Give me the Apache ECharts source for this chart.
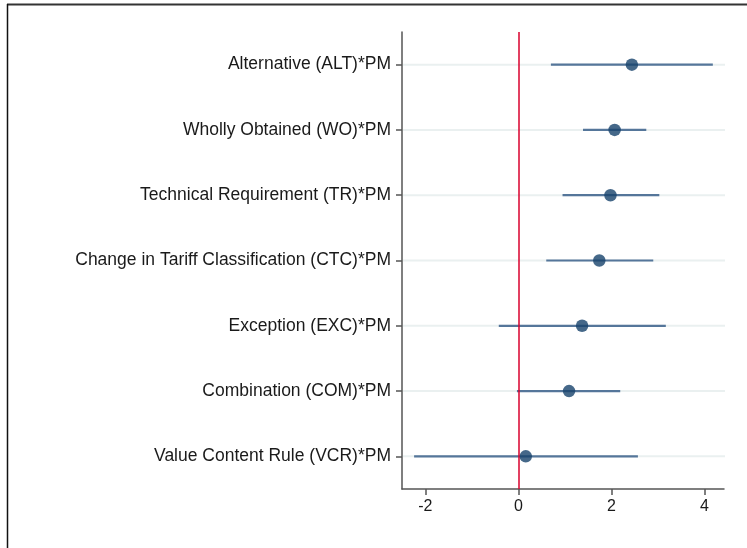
<!DOCTYPE html>
<html><head><meta charset="utf-8">
<script src="https://cdn.jsdelivr.net/npm/echarts@6/dist/echarts.min.js"></script>
<style>html,body{margin:0;padding:0;background:#fff}#c{width:747px;height:548px}</style>
</head><body><div id="c"></div>
<script>
const categories = ["Alternative (ALT)*PM","Wholly Obtained (WO)*PM","Technical Requirement (TR)*PM","Change in Tariff Classification (CTC)*PM","Exception (EXC)*PM","Combination (COM)*PM","Value Content Rule (VCR)*PM"];
const estimates = [2.44, 2.07, 1.98, 1.74, 1.37, 1.09, 0.16];
const lowerCI = [0.70, 1.39, 0.95, 0.60, -0.42, -0.03, -2.24];
const upperCI = [4.18, 2.75, 3.03, 2.90, 3.17, 2.19, 2.57];
const xTicks = [-2, 0, 2, 4];
const xMin = -2.5, xMax = 4.42;

const chart = echarts.init(document.getElementById('c'), null, {renderer:'canvas'});
const font = 'Liberation Sans, Arial, sans-serif';
chart.setOption({
  animation:false,
  backgroundColor:'#fff',
  grid:{left:402, right:23, top:32, bottom:59},
  xAxis:{type:'value', min:xMin, max:xMax,
    axisLine:{show:true, onZero:false, lineStyle:{color:'#555', width:1.5}},
    axisTick:{show:true, length:6, customValues:xTicks, lineStyle:{color:'#555', width:1.5}},
    axisLabel:{customValues:xTicks, color:'#1a1a1a', fontSize:16, fontFamily:font, margin:10},
    splitLine:{show:false}},
  yAxis:{type:'category', data:categories, inverse:true,
    axisLine:{show:true, onZero:false, lineStyle:{color:'#555', width:1.5}},
    axisTick:{show:true, alignWithLabel:true, length:6, lineStyle:{color:'#555', width:1.5}},
    axisLabel:{color:'#1a1a1a', fontSize:17.5, fontFamily:font, margin:11, padding:[4,0,0,0]},
    splitLine:{show:false}},
  graphic:[
    {type:'line', shape:{x1:7, y1:4.5, x2:747, y2:4.5}, style:{stroke:'#333', lineWidth:2}},
    {type:'line', shape:{x1:7.5, y1:4, x2:7.5, y2:548}, style:{stroke:'#111', lineWidth:1.5}}
  ],
  series:[
    {type:'custom', z:1,
     data: categories.map((c,i)=>[i, lowerCI[i], upperCI[i]]),
     renderItem:function(params, api){
       const i = api.value(0);
       const g0 = api.coord([xMin, i]), g1 = api.coord([xMax, i]);
       const a = api.coord([api.value(1), i]), b = api.coord([api.value(2), i]);
       return {type:'group', children:[
         {type:'line', shape:{x1:g0[0]+1, y1:g0[1], x2:g1[0]+1, y2:g1[1]}, style:{stroke:'#eaf0f0', lineWidth:2}, z2:0},
         {type:'line', shape:{x1:a[0], y1:a[1], x2:b[0], y2:b[1]}, style:{stroke:'#55769a', lineWidth:2.2}, z2:1}
       ]};
     },
     encode:{x:[1,2], y:0}},
    {type:'scatter', z:3, symbolSize:12.5, itemStyle:{color:'#17426b'},
     data: categories.map((c,i)=>[estimates[i], c]),
     markLine:{silent:true, symbol:'none', label:{show:false},
       lineStyle:{color:'#d8002c', width:1.5, type:'solid'},
       data:[{xAxis:0}]}}
  ]
});
</script></body></html>
